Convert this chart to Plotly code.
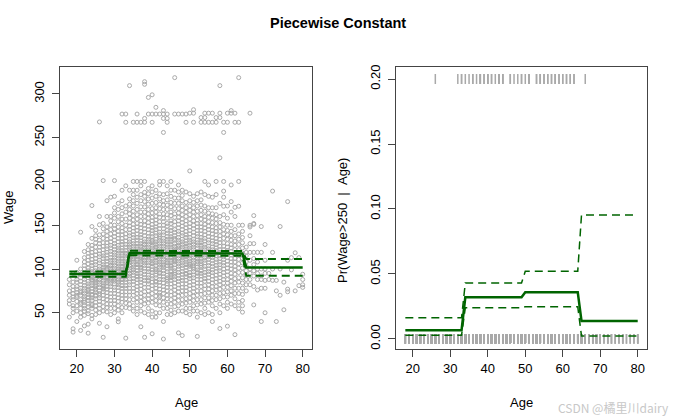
import plotly.graph_objects as go

# wages, by integer age
wage_18_29 = {
    18: [70, 75, 60, 88, 45, 64, 82],
    19: [31.7, 27.9, 55, 65, 72, 80, 95, 50, 58, 68, 85, 76],
    20: [40, 58, 68, 73, 77, 85, 92, 63, 110, 52, 80, 88, 96, 70],
    21: [142, 29.8, 45, 60, 70, 75, 82, 90, 100, 65, 55, 50, 62, 78, 86, 94, 73],
    22: [35, 47, 58, 66, 72, 78, 85, 92, 100, 108, 120, 62, 52, 69, 75, 81, 88, 95, 104, 113, 55, 64],
    23: [26.7, 37, 52, 60, 68, 74, 80, 86, 94, 101, 110, 118, 128, 76,
         49, 57, 64, 71, 77, 83, 90, 98, 106, 114, 122, 67],
    24: [43, 172.5, 148.5, 55, 64, 71, 78, 84, 90, 97, 104, 111, 119, 127, 88, 70,
         47, 60, 67, 74, 81, 87, 93, 100, 107, 115, 123, 135, 58, 95],
    25: [48, 58, 66, 74, 80, 86, 92, 98, 105, 112, 120, 130, 138, 95, 82, 70,
         53, 62, 69, 77, 84, 89, 95, 101, 108, 116, 125, 134, 144, 76, 88],
    26: [268, 38, 160, 150.5, 55, 63, 72, 79, 85, 91, 97, 103, 110, 117, 125, 133, 88,
         50, 59, 67, 75, 82, 88, 94, 100, 107, 114, 121, 129, 139, 70, 93],
    27: [22, 201, 146, 52, 62, 70, 78, 84, 90, 96, 102, 108, 115, 122, 130, 140, 94, 80,
         57, 66, 74, 81, 87, 93, 99, 105, 112, 118, 126, 135, 152, 77, 98],
    28: [34, 178, 148, 56, 65, 73, 80, 87, 93, 99, 105, 112, 119, 126, 134, 143, 100, 85,
         51, 60, 69, 77, 84, 90, 96, 102, 109, 116, 123, 130, 138, 160, 91],
    29: [160, 182, 48, 60, 68, 76, 83, 89, 95, 101, 107, 113, 120, 127, 135, 145, 155, 92, 104,
         55, 64, 72, 80, 86, 92, 98, 104, 110, 117, 124, 131, 140, 150, 88],
}
wage_30_39 = {
    30: [201, 183, 55, 64, 72, 79, 86, 92, 98, 104, 110, 116, 122, 129, 137, 146, 158, 170, 95, 88,
         50, 60, 68, 76, 83, 89, 95, 101, 107, 113, 119, 126, 133, 141, 150, 164, 92],
    31: [39.7, 43, 58, 67, 75, 82, 88, 94, 100, 106, 112, 118, 124, 131, 139, 148, 160, 175, 97, 85,
         53, 63, 71, 79, 85, 91, 97, 103, 109, 115, 121, 127, 135, 143, 154, 168, 100],
    32: [277, 50, 62, 70, 78, 85, 91, 97, 103, 109, 115, 121, 128, 135, 143, 152, 163, 178, 190, 99, 88,
         56, 66, 74, 81, 88, 94, 100, 106, 112, 118, 124, 131, 139, 147, 157, 170, 96],
    33: [21, 277, 267.6, 195, 56, 66, 74, 81, 88, 94, 100, 106, 112, 118, 125, 132, 140, 150, 165, 92, 104, 118,
         61, 70, 78, 85, 91, 97, 103, 109, 115, 121, 128, 136, 145, 157, 172, 100],
    34: [309.5, 60, 70, 78, 85, 92, 98, 104, 110, 116, 122, 128, 134, 141, 149, 158, 168, 180, 115, 95, 108, 125,
         55, 65, 74, 82, 89, 95, 101, 107, 113, 119, 125, 131, 138, 145, 153, 163, 174, 190],
    35: [267.6, 200, 190, 52, 65, 74, 82, 89, 96, 102, 108, 114, 120, 126, 132, 139, 147, 156, 166, 178, 112, 99,
         58, 70, 78, 86, 93, 99, 105, 111, 117, 123, 129, 136, 143, 151, 161, 172, 185],
    36: [277, 267.6, 200, 48, 62, 72, 80, 88, 95, 102, 108, 114, 120, 126, 133, 140, 148, 157, 168, 182, 118, 105, 92,
         55, 67, 76, 84, 91, 98, 105, 111, 117, 123, 129, 136, 144, 152, 162, 175, 190],
    37: [34, 267.6, 200, 58, 68, 77, 85, 92, 99, 105, 111, 117, 123, 129, 136, 143, 151, 160, 171, 185, 121, 101, 113,
         52, 63, 72, 81, 88, 95, 102, 108, 114, 120, 126, 132, 139, 147, 155, 165, 178, 195],
    38: [314, 311, 272, 267.6, 22, 200, 187.6, 60, 70, 79, 87, 94, 101, 107, 113, 119, 125, 131, 138, 146, 155, 165,
         177, 110, 128, 50, 65, 74, 83, 90, 97, 104, 110, 116, 122, 128, 134, 142, 150, 160, 171, 183],
    39: [296, 277, 55, 66, 75, 83, 90, 97, 104, 110, 116, 122, 128, 134, 141, 149, 158, 168, 180, 192, 115, 100, 87,
         48, 61, 70, 79, 86, 93, 100, 107, 113, 119, 125, 131, 137, 145, 153, 163, 174, 186],
}
wage_40_49 = {
    40: [299, 277, 267.6, 26, 45, 62, 72, 81, 89, 96, 103, 109, 115, 121, 127, 133, 140, 147, 155, 164, 175, 188,
         118, 106, 132, 52, 67, 77, 85, 92, 99, 106, 112, 118, 124, 130, 137, 144, 151, 159, 169, 181, 195],
    41: [284.7, 277, 50, 64, 74, 82, 90, 97, 104, 110, 116, 122, 128, 134, 141, 148, 156, 165, 176, 190, 113, 99, 125,
         85, 45, 59, 69, 78, 86, 93, 100, 107, 113, 119, 125, 131, 138, 145, 152, 160, 170, 183],
    42: [277, 200, 58, 68, 77, 85, 92, 99, 105, 111, 117, 123, 129, 135, 142, 150, 159, 169, 180, 120, 108, 95, 137,
         70, 50, 63, 73, 81, 88, 96, 102, 108, 114, 126, 132, 139, 146, 154, 163, 174, 186, 196],
    43: [281, 277, 272, 256, 20, 200, 40, 62, 72, 80, 88, 95, 102, 108, 114, 120, 126, 132, 139, 146, 154, 163, 173,
         185, 117, 104, 55, 67, 76, 84, 91, 98, 105, 111, 117, 123, 129, 135, 142, 150, 158, 168, 178],
    44: [277, 272, 267.6, 55, 66, 75, 83, 90, 97, 104, 110, 116, 122, 128, 134, 141, 149, 158, 168, 179, 119, 107, 131,
         88, 48, 60, 70, 79, 86, 93, 100, 107, 113, 125, 137, 144, 152, 162, 173, 186, 195],
    45: [200, 48, 60, 70, 79, 87, 94, 101, 107, 113, 119, 125, 131, 137, 144, 152, 161, 171, 183, 116, 103, 128, 92,
         140, 53, 65, 74, 83, 90, 97, 104, 110, 122, 134, 147, 155, 165, 176, 190],
    46: [318.6, 277, 57, 67, 76, 84, 91, 98, 105, 111, 117, 123, 129, 135, 142, 150, 159, 169, 181, 121, 109, 96, 133,
         110, 50, 62, 71, 80, 88, 94, 101, 108, 114, 120, 126, 138, 145, 154, 163, 175, 190],
    47: [277, 27, 52, 64, 74, 82, 89, 96, 103, 109, 115, 121, 127, 133, 140, 147, 155, 164, 175, 188, 118, 100, 126,
         58, 69, 78, 86, 93, 106, 112, 124, 130, 136, 143, 151, 159, 169, 181, 196],
    48: [277, 24, 60, 70, 79, 87, 94, 101, 107, 113, 119, 125, 131, 138, 145, 153, 162, 172, 184, 115, 104, 122, 90,
         52, 65, 75, 83, 97, 110, 116, 128, 134, 141, 149, 157, 167, 178, 190],
    49: [277, 267.6, 55, 66, 75, 83, 91, 98, 105, 111, 117, 123, 129, 136, 143, 151, 160, 170, 120, 108, 94, 132,
         50, 61, 71, 79, 87, 95, 102, 114, 126, 139, 147, 155, 165, 176, 188],
}
wage_50_59 = {
    50: [278, 212, 48, 62, 72, 81, 89, 96, 103, 109, 115, 121, 127, 133, 140, 148, 157, 167, 178, 117, 105, 130, 92,
         55, 67, 77, 85, 93, 100, 106, 112, 124, 136, 144, 152, 162, 172, 186],
    51: [282, 278, 267.6, 58, 69, 78, 86, 93, 100, 107, 113, 119, 125, 131, 138, 146, 155, 165, 176, 116, 102, 128,
         52, 64, 74, 82, 90, 97, 104, 110, 122, 134, 142, 150, 160, 170, 183],
    52: [23, 52, 65, 75, 84, 92, 99, 106, 112, 118, 124, 130, 137, 144, 152, 161, 172, 186, 120, 108, 95,
         45, 59, 70, 80, 88, 96, 102, 109, 115, 127, 133, 140, 148, 156, 166, 178],
    53: [273, 267.6, 60, 71, 80, 88, 95, 102, 109, 115, 121, 127, 133, 140, 148, 157, 167, 179, 118, 104,
         50, 65, 75, 84, 92, 98, 106, 112, 124, 130, 136, 144, 152, 162, 173, 188],
    54: [278, 273, 267.6, 200, 55, 67, 77, 86, 93, 100, 107, 113, 119, 125, 132, 139, 147, 156, 166,
         48, 61, 72, 81, 89, 96, 103, 110, 116, 122, 128, 135, 143, 151, 160, 172, 185],
    55: [278, 267.6, 196, 62, 73, 82, 90, 97, 104, 111, 117, 123, 130, 137, 145, 154, 164, 115,
         50, 67, 77, 86, 94, 100, 107, 114, 120, 126, 133, 141, 149, 159, 170, 183],
    56: [278, 267.6, 40, 58, 70, 80, 88, 96, 103, 110, 116, 122, 129, 136, 144, 153, 163,
         48, 64, 75, 84, 92, 99, 106, 113, 119, 125, 132, 140, 148, 158, 170, 182],
    57: [273, 267.6, 200, 65, 76, 85, 93, 101, 108, 115, 121, 128, 135, 143, 152, 162,
         55, 70, 80, 89, 97, 104, 111, 118, 124, 131, 139, 147, 157, 170, 185],
    58: [309.5, 278, 273, 227, 32, 60, 72, 82, 90, 98, 105, 112, 119, 126, 134, 143, 153,
         50, 66, 77, 86, 94, 101, 108, 115, 122, 130, 138, 148, 160, 175],
    59: [267.6, 256, 200, 189, 182, 171.7, 68, 79, 88, 96, 104, 111, 118, 126, 135, 145,
         58, 73, 84, 92, 100, 107, 114, 122, 130, 140, 151, 162],
}
wage_60_80 = {
    60: [278, 267.6, 34.7, 62, 74, 84, 93, 101, 109, 117, 125, 134, 144, 158,
         55, 68, 79, 88, 97, 105, 113, 121, 129, 139, 150, 172],
    61: [281, 278, 196, 177, 70, 81, 91, 100, 108, 116, 124, 133, 143, 60, 75, 86, 95, 104, 112, 120, 128, 138, 150, 165],
    62: [278, 267.6, 25, 170.5, 66, 78, 89, 99, 108, 117, 127, 138, 58, 72, 84, 94, 103, 112, 122, 132, 145, 160],
    63: [318.6, 267.6, 200, 171.7, 54.6, 72, 85, 96, 106, 116, 128, 140, 62, 78, 90, 101, 111, 122, 134, 150],
    64: [50.7, 64, 78, 90, 101, 112, 124, 136, 150, 58, 71, 84, 96, 107, 118, 130, 143],
    65: [119, 75, 88, 98, 108, 125, 82, 93, 103, 115],
    66: [278, 150, 148, 138, 129, 119, 95, 82, 88, 100, 110],
    67: [161, 152, 151, 129, 119, 59, 92, 105, 80, 98, 112],
    68: [119, 88, 100, 76, 95, 108],
    69: [148.5, 119, 40, 78, 100, 88, 92],
    70: [128, 50, 87, 78, 100, 110, 95],
    71: [95, 88],
    72: [189, 119, 87, 100],
    73: [40, 75, 87],
    74: [148.5, 70, 100],
    75: [53.4, 85],
    76: [177, 77, 74, 110],
    77: [99, 113],
    78: [118.5, 75],
    79: [81, 113],
    80: [94, 88, 82, 79],
}

# step fit on cut(age, 4)
age_breaks = [33.5, 49, 64.5]
fit_wage = [94.16, 118.21, 117.82, 101.80]
fit_wage_lo = [91.2, 115.6, 115.1, 92.2]
fit_wage_hi = [97.1, 120.8, 120.5, 111.4]
fit_prob = [0.0067, 0.0321, 0.0360, 0.0138]
fit_prob_lo = [0.0028, 0.0240, 0.0248, 0.0023]
fit_prob_hi = [0.0164, 0.0431, 0.0520, 0.0954]
age_grid = list(range(18, 81))
high_wage = 250

ages, wages = [], []
for block in [wage_18_29, wage_30_39, wage_40_49, wage_50_59, wage_60_80]:
    for a, ws in block.items():
        ages += [a] * len(ws)
        wages += ws


def on_grid(levels):
    return [levels[sum(a > b for b in age_breaks)] for a in age_grid]


GREEN = "#006400"
GREY = "#A9A9A9"
FONT = "Liberation Sans, Arial, sans-serif"

fig = go.Figure()

fig.add_trace(go.Scatter(x=ages, y=wages, mode="markers",
                         marker=dict(symbol="circle-open", size=4, color=GREY, line=dict(width=1, color=GREY)),
                         xaxis="x", yaxis="y"))
fig.add_trace(go.Scatter(x=age_grid, y=on_grid(fit_wage), mode="lines",
                         line=dict(color=GREEN, width=2.5), xaxis="x", yaxis="y"))
for lv in [fit_wage_lo, fit_wage_hi]:
    fig.add_trace(go.Scatter(x=age_grid, y=on_grid(lv), mode="lines",
                             line=dict(color=GREEN, width=2, dash="8px,5px"), xaxis="x", yaxis="y"))

# rug: top for wage > 250, bottom for the rest
rug_y = [0.2 if w > high_wage else 0 for w in wages]
fig.add_trace(go.Scatter(x=ages, y=rug_y, mode="markers",
                         marker=dict(symbol="line-ns-open", size=7, color=GREY, line=dict(width=1.5, color=GREY)),
                         xaxis="x2", yaxis="y2"))
fig.add_trace(go.Scatter(x=age_grid, y=on_grid(fit_prob), mode="lines",
                         line=dict(color=GREEN, width=2.5), xaxis="x2", yaxis="y2"))
for lv in [fit_prob_lo, fit_prob_hi]:
    fig.add_trace(go.Scatter(x=age_grid, y=on_grid(lv), mode="lines",
                             line=dict(color=GREEN, width=1.5, dash="8px,5px"), xaxis="x2", yaxis="y2"))

ax = dict(showline=True, mirror=True, linecolor="#444", linewidth=1, ticks="outside", ticklen=7,
          tickcolor="#444", showgrid=False, zeroline=False, tickfont=dict(family=FONT, size=13, color="black"))
fig.update_layout(
    width=677, height=420, margin=dict(l=0, r=0, t=0, b=0),
    plot_bgcolor="white", paper_bgcolor="white", showlegend=False,
    xaxis=dict(ax, domain=[0.0886, 0.4609], range=[15.52, 82.48], tickvals=[20, 30, 40, 50, 60, 70, 80], anchor="y"),
    yaxis=dict(ax, domain=[0.169, 0.845], range=[8.2, 331], tickvals=[50, 100, 150, 200, 250, 300],
               tickangle=-90, ticklabelstandoff=3, anchor="x"),
    xaxis2=dict(ax, domain=[0.585, 0.9557], range=[15.52, 82.48], tickvals=[20, 30, 40, 50, 60, 70, 80], anchor="y2"),
    yaxis2=dict(ax, domain=[0.169, 0.845], range=[-0.008, 0.2094], tickvals=[0, 0.05, 0.1, 0.15, 0.2],
                tickformat=".2f", tickangle=-90, ticklabelstandoff=3, anchor="x2"),
)

nb = "\u00a0"
labels = [
    ("<b>Piecewise Constant</b>", 338, 21, 0, 14.5),
    ("Wage", 8, 207, -90, 13),
    ("Age", 186, 402, 0, 13),
    (f"Pr(Wage>250{nb}{nb}|{nb}{nb}Age)", 343, 220, -90, 13),
    ("Age", 521.5, 402, 0, 13),
]
for txt, px, py, ang, sz in labels:
    fig.add_annotation(text=txt, x=px / 677, y=1 - py / 420, xref="paper", yref="paper",
                       xanchor="center", yanchor="middle", showarrow=False, textangle=ang,
                       font=dict(family=FONT, size=sz, color="black"))
fig.add_annotation(text="CSDN @橘里川dairy", x=671 / 677, y=1 - 407 / 420, xref="paper", yref="paper",
                   xanchor="right", yanchor="middle", showarrow=False,
                   font=dict(family="Noto Sans CJK SC, sans-serif", size=12, color="#c8c8c8"))

fig.write_html("out.html", config={"displayModeBar": False},
               post_script="document.body.style.margin='0';")
